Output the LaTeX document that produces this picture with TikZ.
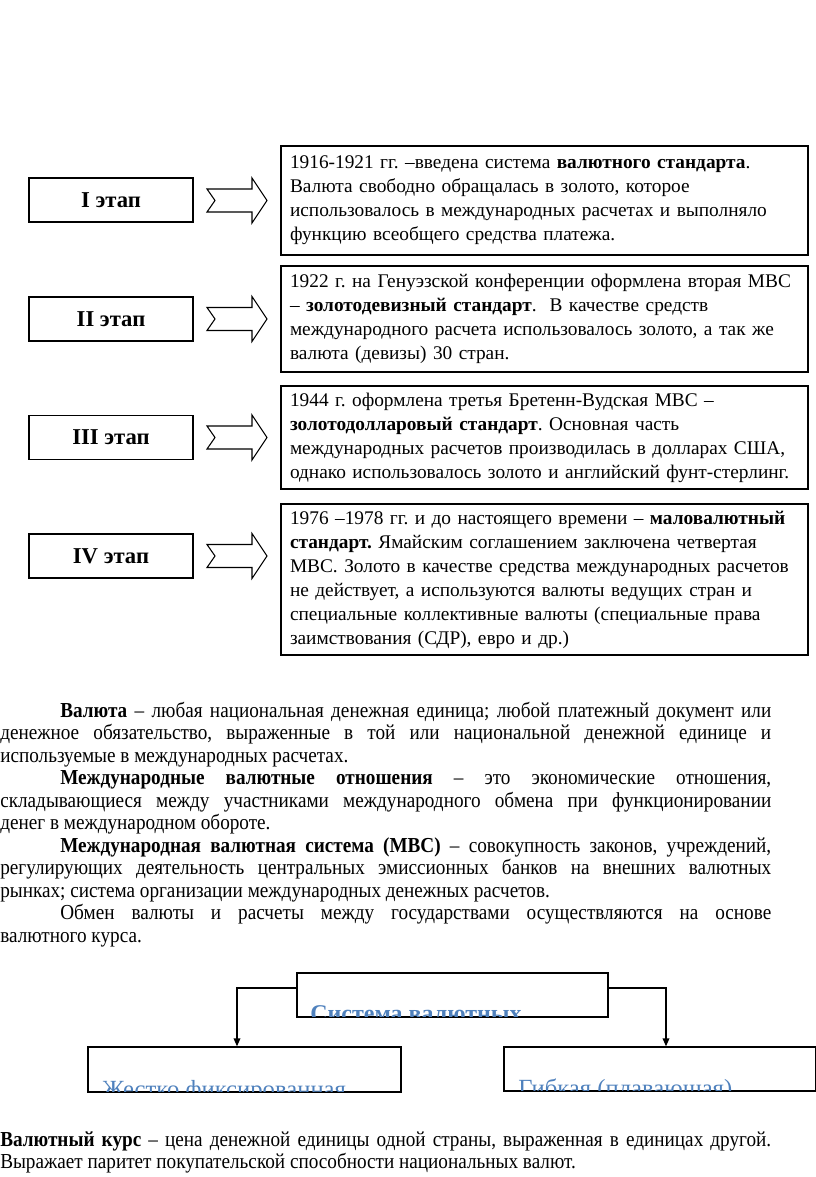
\documentclass[tikz,border=0pt]{standalone}
\usepackage{fontspec}
\setmainfont{Liberation Serif}
\newfontfamily\midfont{Liberation Serif}[FakeStretch=0.9]
\usetikzlibrary{calc,arrows.meta}
\definecolor{hdblue}{RGB}{79,129,189}
\frenchspacing
\tikzset{
  stagebox/.style={draw, line width=1pt, minimum width=123pt, minimum height=33pt, inner sep=0pt, font=\fontsize{17}{20}\selectfont\bfseries},
  infobox/.style={draw, line width=1pt, minimum width=395.25pt, text width=381.75pt, inner xsep=6.75pt, inner ysep=0pt, align=left, font=\fontsize{14.5}{18}\selectfont},
  plainbox/.style={draw, line width=1pt, inner sep=0pt},
  mline/.style={anchor=base west, inner sep=0pt, font=\midfont\fontsize{16}{17}\selectfont},
  cliptext/.style={anchor=base west, inner sep=0pt, text=hdblue, font=\fontsize{18.5}{20}\selectfont},
  conn/.style={line width=1pt, -{Triangle[length=6pt,width=5pt]}},
  blockarr/.pic={\draw[line width=0.8pt, line join=miter] (-30,-11.5) -- (15,-11.5) -- (15,-22.5) -- (30,0) -- (15,22.5) -- (15,11.5) -- (-30,11.5) -- (-22,0) -- cycle;}
}
\begin{document}
\begin{tikzpicture}[x=0.75pt,y=-0.75pt]
\useasboundingbox (0,0) rectangle (816,1177);
\fill[white] (0,0) rectangle (816,1177);

% stages
\node[stagebox] (s1) at (111,200) {I этап};
\node[stagebox] (s2) at (111,319) {II этап};
\node[stagebox] (s3) at (111,437.5) {III этап};
\node[stagebox] (s4) at (111,556) {IV этап};

\pic at (237,200.5) {blockarr};
\pic at (237,319) {blockarr};
\pic at (237,437.5) {blockarr};
\pic at (237,556) {blockarr};

\node[infobox, minimum height=81.75pt] (b1) at (544.5,200.5) {1916-1921 гг. –введена система \textbf{валютного стандарта}.\\ Валюта свободно обращалась в золото, которое\\ использовалось в международных расчетах и выполняло\\ функцию всеобщего средства платежа.};
\node[infobox, minimum height=79.5pt] (b2) at (544.5,319) {1922 г. на Генуэзской конференции оформлена вторая МВС\\ – \textbf{золотодевизный стандарт}.\ \ В качестве средств\\ международного расчета использовалось золото, а так же\\ валюта (девизы) 30 стран.};
\node[infobox, minimum height=77.25pt] (b3) at (544.5,437.5) {1944 г. оформлена третья Бретенн-Вудская МВС –\\ \textbf{золотодолларовый стандарт}. Основная часть\\ международных расчетов производилась в долларах США,\\ однако использовалось золото и английский фунт-стерлинг.};
\node[infobox, minimum height=113.25pt] (b4) at (544.5,579.5) {1976 –1978 гг. и до настоящего времени – \textbf{маловалютный}\\ \textbf{стандарт.} Ямайским соглашением заключена четвертая\\ МВС. Золото в качестве средства международных расчетов\\ не действует, а используются валюты ведущих стран и\\ специальные коллективные валюты (специальные права\\ заимствования (СДР), евро и др.)};

% definitions text
\node[mline] (l1) at (60,717) {\makebox[533.25pt][s]{\textbf{Валюта} – любая национальная денежная единица; любой платежный документ или}};
\node[mline] (l2) at (0,739.5) {\makebox[578.25pt][s]{денежное обязательство, выраженные в той или национальной денежной единице и}};
\node[mline] (l3) at (0,762) {используемые в международных расчетах.};
\node[mline] (l4) at (60,784.5) {\makebox[533.25pt][s]{\textbf{Международные валютные отношения} – это экономические отношения,}};
\node[mline] (l5) at (0,807) {\makebox[578.25pt][s]{складывающиеся между участниками международного обмена при функционировании}};
\node[mline] (l6) at (0,829.5) {денег в международном обороте.};
\node[mline] (l7) at (60,852) {\makebox[533.25pt][s]{\textbf{Международная валютная система (МВС)} – совокупность законов, учреждений,}};
\node[mline] (l8) at (0,874.5) {\makebox[578.25pt][s]{регулирующих деятельность центральных эмиссионных банков на внешних валютных}};
\node[mline] (l9) at (0,897) {рынках; система организации международных денежных расчетов.};
\node[mline] (l10) at (60,919.5) {\makebox[533.25pt][s]{Обмен валюты и расчеты между государствами осуществляются на основе}};
\node[mline] (l11) at (0,942) {валютного курса.};

% bottom diagram
\node[plainbox, minimum width=233.25pt, minimum height=33pt] (sys) at (452.5,995) {};
\node[plainbox, minimum width=234.75pt, minimum height=33.75pt] (fix) at (244.5,1069.5) {};
\node[plainbox, minimum width=234pt, minimum height=33pt] (flo) at (660,1069) {};
\begin{scope}
  \clip (sys.south west) rectangle (sys.north east);
  \node[cliptext, font=\fontsize{18}{20}\selectfont\bfseries] (syst) at (310,1021) {Система валютных};
\end{scope}
\begin{scope}
  \clip (fix.south west) rectangle (fix.north east);
  \node[cliptext] (fixt) at (102,1097) {Жестко фиксированная};
\end{scope}
\begin{scope}
  \clip (flo.south west) rectangle (flo.north east);
  \node[cliptext] (flot) at (518,1096) {Гибкая (плавающая)};
\end{scope}
\draw[line width=1pt] (sys.south west) rectangle (sys.north east);
\draw[line width=1pt] (fix.south west) rectangle (fix.north east);
\draw[line width=1pt] (flo.south west) rectangle (flo.north east);
\draw[conn] ($(sys.west)+(0,-7)$) -| ($(fix.north)+(-7.5,0)$);
\draw[conn] ($(sys.east)+(0,-7)$) -| ($(flo.north)+(6,0)$);

\node[mline] (l12) at (0,1146) {\makebox[578.25pt][s]{\textbf{Валютный курс} – цена денежной единицы одной страны, выраженная в единицах другой.}};
\node[mline] (l13) at (0,1168.5) {Выражает паритет покупательской способности национальных валют.};
\end{tikzpicture}
\end{document}
